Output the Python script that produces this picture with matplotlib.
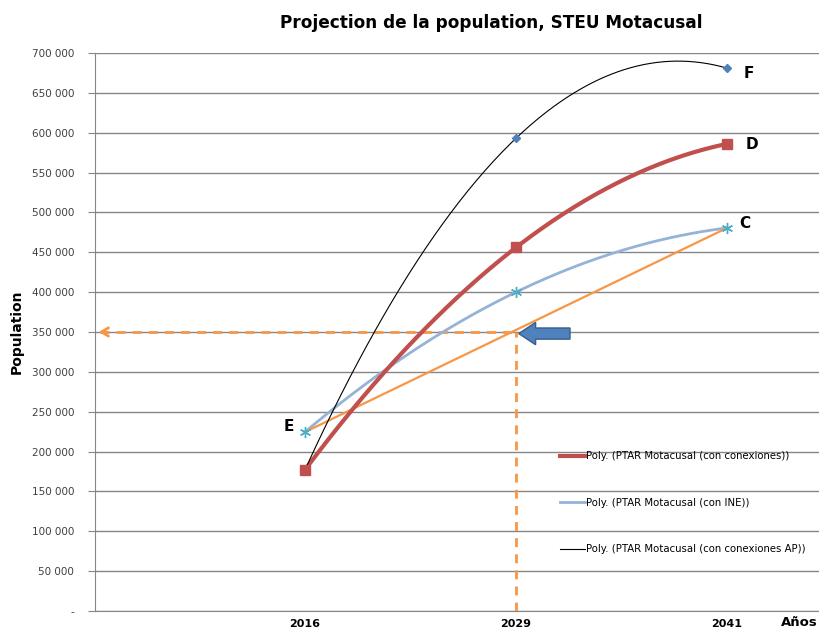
import numpy as np
import matplotlib.pyplot as plt
from matplotlib.patches import FancyArrow

# Projection data
years = ['2016', '2029', '2041']
x = np.array([0, 1, 2])
pop_ap = [177000, 593000, 681000]          # con conexiones AP (F)
pop_conex = [177000, 456000, 586000]       # con conexiones (D)
pop_ine = [224500, 400000, 480500]         # con INE (C)
linear_pts = [224500, 480500]              # E -> C
target_pop = 350000

fig = plt.figure(figsize=(8.19, 6.3), dpi=100)
ax = fig.add_axes([0.116, 0.0302, 0.884, 0.8857])

xs = np.linspace(0, 2, 200)
grey = '#868686'

# polynomial trendlines
c1 = np.polyfit(x, pop_conex, 2)
ax.plot(xs, np.polyval(c1, xs), color='#C0504D', lw=3,
        label='Poly. (PTAR Motacusal (con conexiones))', zorder=4)
c2 = np.polyfit(x, pop_ine, 2)
ax.plot(xs, np.polyval(c2, xs), color='#95B3D7', lw=2,
        label='Poly. (PTAR Motacusal (con INE))', zorder=3)
c3 = np.polyfit(x, pop_ap, 2)
ax.plot(xs, np.polyval(c3, xs), color='black', lw=0.8,
        label='Poly. (PTAR Motacusal (con conexiones AP))', zorder=5)

# linear E -> C
ax.plot([0, 2], linear_pts, color='#F79646', lw=1.6, zorder=3)

# markers
ax.plot(x, pop_ap, ls='none', marker='D', ms=4.5, color='#4F81BD', zorder=6)
ax.plot(x, pop_conex, ls='none', marker='s', ms=7, color='#C0504D', zorder=6)
ax.plot(x, pop_ine, ls='none', marker=(6, 2, 0), ms=8, mew=1,
        color='#4BACC6', zorder=6)

# dashed projection lines
dash = (0, (3.2, 2.6))
ax.plot([1, 1], [0, target_pop], color='#F79646', lw=2, ls=dash, zorder=2)
ax.plot([-0.97, 1], [target_pop, target_pop], color='#F79646', lw=2, ls=dash, zorder=2)
ax.annotate('', xy=(-0.99, target_pop), xytext=(-0.93, target_pop),
            arrowprops=dict(arrowstyle='->,head_length=0.5,head_width=0.3',
                            color='#F79646', lw=2), zorder=2)

# block arrow
ax.add_patch(FancyArrow(
    1.256, target_pop - 2000, -0.243, 0, width=14000, head_width=28000,
    head_length=0.08, length_includes_head=True,
    facecolor='#4F81BD', edgecolor='#385D8A', lw=1, zorder=7))

# point labels
lab_kw = dict(fontsize=11, fontweight='bold', color='black', zorder=8)
ax.text(2.08, 674000, 'F', va='center', **lab_kw)
ax.text(2.09, 585000, 'D', va='center', **lab_kw)
ax.text(2.06, 486000, 'C', va='center', **lab_kw)
ax.text(-0.05, 231000, 'E', va='center', ha='right', **lab_kw)

ax.set_xlim(-0.995, 2.436)
ax.set_ylim(0, 700000)
yt = np.arange(0, 700001, 50000)
ax.set_yticks(yt)
ax.set_yticklabels(['-' if v == 0 else f'{v:,}'.replace(',', ' ') for v in yt],
                   fontsize=7.5, color='#404040')
ax.yaxis.grid(True, color=grey, lw=1)
ax.set_axisbelow(True)
ax.tick_params(axis='y', length=5, color=grey, pad=10)
ax.set_xticks(x)
ax.set_xticklabels(years, fontsize=8, fontweight='bold')
ax.tick_params(axis='x', length=0, pad=6)
for s in ['top', 'right']:
    ax.spines[s].set_visible(False)
for s in ['left', 'bottom']:
    ax.spines[s].set_color(grey)

ax.set_ylabel('Population', fontsize=10, fontweight='bold', labelpad=6)
fig.text(0.998, 0.006, 'Años', fontsize=9.5, fontweight='bold', ha='right')
fig.text(0.6, 0.955, 'Projection de la population, STEU Motacusal',
         fontsize=12.2, fontweight='bold', ha='center')

ax.legend(loc='lower left', bbox_to_anchor=(0.63, 0.085), frameon=False,
          fontsize=7.3, labelspacing=3.6, handlelength=2.4, handletextpad=0.1)

fig.savefig('out.png', dpi=100)
